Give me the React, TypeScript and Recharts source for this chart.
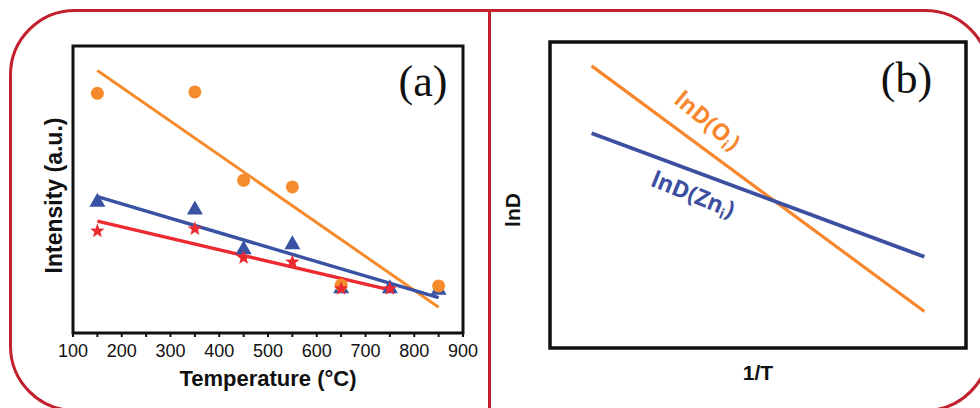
import React from 'react';
import {
  ComposedChart,
  LineChart,
  Line,
  Scatter,
  XAxis,
  YAxis,
  ReferenceArea,
  ReferenceDot,
  Label
} from 'recharts';

// panel (a): measured intensities
const tempTicks = [100, 150, 200, 250, 300, 350, 400, 450, 500, 550, 600, 650, 700, 750, 800, 850, 900];
const orangeTemps = [150, 350, 450, 550, 650, 850];
const orangeValues = [83.5, 84, 53.2, 50.9, 16.7, 16.4];
const blueTemps = [150, 350, 450, 550, 650, 750, 850];
const blueValues = [46.1, 43.4, 29.5, 31.3, 15.9, 15.9, 15.4];
const redTemps = [150, 350, 450, 550, 650, 750];
const redValues = [35.5, 36.3, 26.2, 24.7, 15.4, 15.4];

// linear fits (end points)
const orangeFitTemps = [150, 850];
const orangeFitValues = [91.5, 9.0];
const blueFitTemps = [150, 850];
const blueFitValues = [47.5, 12.3];
const redFitTemps = [150, 750];
const redFitValues = [39.0, 15.0];

// panel (b): schematic lnD vs 1/T
const invT = [0.1, 0.9];
const lnDO = [0.922, 0.119];
const lnDZn = [0.702, 0.298];

const ORANGE = '#f58b2c';
const BLUE = '#3a52a3';
const RED = '#ec2a30';
const FRAME = '#c3202e';
const SANS = '"Liberation Sans", Arial, sans-serif';
const SERIF = '"Liberation Serif", "Times New Roman", serif';
const LABEL_FONT = '"Open Sans", "Noto Sans", sans-serif';

const zip = (xs: number[], ys: number[]) => xs.map((x, i) => ({ x, y: ys[i] }));

const CircleMark = (p: any) => <circle cx={p.cx} cy={p.cy} r={6.5} fill={ORANGE} />;

const TriangleMark = (p: any) => (
  <polygon
    points={`${p.cx},${p.cy - 8} ${p.cx + 8},${p.cy + 6} ${p.cx - 8},${p.cy + 6}`}
    fill={BLUE}
  />
);

const StarMark = (p: any) => {
  const pts: string[] = [];
  for (let i = 0; i < 10; i++) {
    const r = i % 2 === 0 ? 7.5 : 3.2;
    const a = -Math.PI / 2 + (i * Math.PI) / 5;
    pts.push(`${p.cx + r * Math.cos(a)},${p.cy + r * Math.sin(a)}`);
  }
  return <polygon points={pts.join(' ')} fill={RED} />;
};

const xTitleA = ({ viewBox }: any) => (
  <text
    x={viewBox.x + viewBox.width / 2}
    y={viewBox.y + 45}
    textAnchor="middle"
    dominantBaseline="central"
    fontFamily={SANS}
    fontWeight="bold"
    fontSize={22}
    fill="#111"
  >
    Temperature (°C)
  </text>
);

const yTitleA = ({ viewBox }: any) => {
  const cx = viewBox.x + viewBox.width - 19;
  const cy = viewBox.y + viewBox.height / 2 + 6;
  return (
    <text
      x={cx}
      y={cy}
      transform={`rotate(-90 ${cx} ${cy})`}
      textAnchor="middle"
      dominantBaseline="central"
      fontFamily={SANS}
      fontWeight="bold"
      fontSize={23}
      fill="#111"
    >
      Intensity (a.u.)
    </text>
  );
};

const xTitleB = ({ viewBox }: any) => (
  <text
    x={viewBox.x + viewBox.width / 2}
    y={viewBox.y + 24}
    textAnchor="middle"
    dominantBaseline="central"
    fontFamily={SANS}
    fontWeight="bold"
    fontSize={21}
    fill="#111"
  >
    1/T
  </text>
);

const yTitleB = ({ viewBox }: any) => {
  const cx = viewBox.x + viewBox.width - 38;
  const cy = viewBox.y + viewBox.height / 2 + 15;
  return (
    <text
      x={cx}
      y={cy}
      transform={`rotate(-90 ${cx} ${cy})`}
      textAnchor="middle"
      dominantBaseline="central"
      fontFamily={SANS}
      fontWeight="bold"
      fontSize={21}
      fill="#111"
    >
      lnD
    </text>
  );
};

const panelTag = (tag: string) => (p: any) => (
  <text
    x={p.cx}
    y={p.cy}
    textAnchor="middle"
    dominantBaseline="central"
    fontFamily={SERIF}
    fontSize={44}
    fill="#111"
  >
    {tag}
  </text>
);

const curveLabel = (main: string, sub: string, color: string, angle: number) => (p: any) => (
  <text
    x={p.cx}
    y={p.cy}
    transform={`rotate(${angle} ${p.cx} ${p.cy})`}
    textAnchor="middle"
    dominantBaseline="central"
    fontFamily={LABEL_FONT}
    fontWeight="bold"
    fontSize={23}
    fill={color}
  >
    {main}
    <tspan dy={7} fontSize={14}>{sub}</tspan>
    <tspan dy={-7}>)</tspan>
  </text>
);

const tempTickFormat = (v: number) => (v % 100 === 0 ? String(v) : '');

export default function App() {
  return (
    <div
      style={{
        position: 'relative',
        width: 980,
        height: 408,
        overflow: 'hidden',
        background: '#fff'
      }}
    >
      <style>{'body{margin:0}'}</style>
      {/* red frame around the two panels */}
      <div
        style={{
          position: 'absolute',
          left: 9,
          top: 9,
          width: 982,
          height: 403,
          border: `3px solid ${FRAME}`,
          borderRadius: 66,
          boxSizing: 'border-box'
        }}
      />
      <div
        style={{
          position: 'absolute',
          left: 488,
          top: 10,
          width: 3,
          height: 400,
          background: FRAME
        }}
      />

      <div style={{ position: 'absolute', left: 0, top: 0 }}>
        <ComposedChart width={490} height={408} margin={{ top: 46, right: 27, bottom: 15, left: 13 }}>
          <XAxis
            type="number"
            dataKey="x"
            domain={[100, 900]}
            ticks={tempTicks}
            tickFormatter={tempTickFormat}
            interval={0}
            height={60}
            axisLine={false}
            tickSize={4}
            tickMargin={7}
            tickLine={{ stroke: '#111', strokeWidth: 2 }}
            tick={{ fill: '#111', fontSize: 18, fontFamily: SANS }}
          >
            <Label content={xTitleA} />
          </XAxis>
          <YAxis type="number" dataKey="y" domain={[0, 100]} width={60} tick={false} axisLine={false} tickLine={false}>
            <Label content={yTitleA} />
          </YAxis>
          <ReferenceArea x1={100} x2={900} y1={0} y2={100} fill="none" stroke="#111" strokeWidth={3} />
          <Line data={zip(orangeFitTemps, orangeFitValues)} dataKey="y" stroke={ORANGE} strokeWidth={3} dot={false} isAnimationActive={false} />
          <Line data={zip(blueFitTemps, blueFitValues)} dataKey="y" stroke={BLUE} strokeWidth={3.4} dot={false} isAnimationActive={false} />
          <Line data={zip(redFitTemps, redFitValues)} dataKey="y" stroke={RED} strokeWidth={3.4} dot={false} isAnimationActive={false} />
          <Scatter data={zip(blueTemps, blueValues)} dataKey="y" shape={TriangleMark} isAnimationActive={false} />
          <Scatter data={zip(orangeTemps, orangeValues)} dataKey="y" shape={CircleMark} isAnimationActive={false} />
          <Scatter data={zip(redTemps, redValues)} dataKey="y" shape={StarMark} isAnimationActive={false} />
          <ReferenceDot x={818} y={87.5} r={0} shape={panelTag('(a)')} />
        </ComposedChart>
      </div>

      <div style={{ position: 'absolute', left: 490, top: 0 }}>
        <LineChart width={490} height={408} margin={{ top: 42, right: 14, bottom: 20, left: 10 }}>
          <XAxis type="number" dataKey="x" domain={[0, 1]} height={40} tick={false} axisLine={false} tickLine={false}>
            <Label content={xTitleB} />
          </XAxis>
          <YAxis type="number" domain={[0, 1]} width={50} tick={false} axisLine={false} tickLine={false}>
            <Label content={yTitleB} />
          </YAxis>
          <ReferenceArea x1={0} x2={1} y1={0} y2={1} fill="none" stroke="#111" strokeWidth={3.5} />
          <Line data={zip(invT, lnDO)} dataKey="y" stroke="#f7862c" strokeWidth={3.2} dot={false} isAnimationActive={false} />
          <Line data={zip(invT, lnDZn)} dataKey="y" stroke="#3d4fa1" strokeWidth={3.8} dot={false} isAnimationActive={false} />
          <ReferenceDot x={0.38} y={0.745} r={0} shape={curveLabel('lnD(O', 'i', '#f7862c', 40)} />
          <ReferenceDot x={0.345} y={0.505} r={0} shape={curveLabel('lnD(Zn', 'i', '#3d4fa1', 22)} />
          <ReferenceDot x={0.857} y={0.882} r={0} shape={panelTag('(b)')} />
        </LineChart>
      </div>
    </div>
  );
}
